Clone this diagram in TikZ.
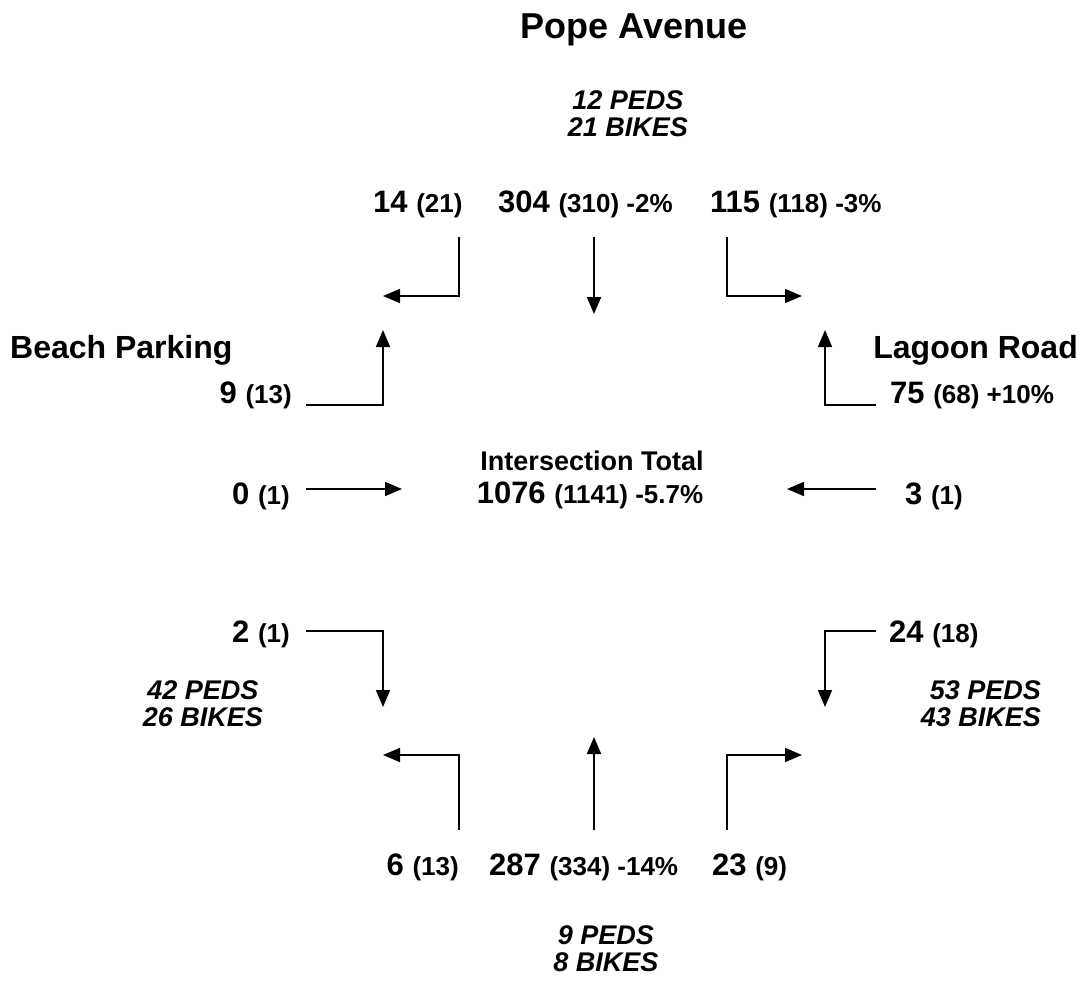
\documentclass[tikz,border=0pt]{standalone}
\usepackage{fontspec}
\setmainfont{Liberation Sans}
\usetikzlibrary{arrows.meta}
\newcommand\sm[1]{{\fontsize{26}{30}\selectfont #1}}
\begin{document}
\begin{tikzpicture}[x=1pt,y=-1pt,
  road/.style={font=\bfseries\fontsize{32}{38}\selectfont, inner sep=0pt, anchor=base west},
  cnt/.style={font=\bfseries\fontsize{31}{36}\selectfont, inner sep=0pt, anchor=base west},
  ped/.style={font=\bfseries\itshape\fontsize{27}{27}\selectfont, inner sep=0pt, anchor=north},
  tot/.style={font=\bfseries\fontsize{27}{30}\selectfont, inner sep=0pt, anchor=base},
  mv/.style={line width=1.6pt, -{Triangle[width=14pt,length=17pt]}},
  thru/.style={mv, line width=2pt},
]
\useasboundingbox (0,0) rectangle (1089,996);
% road names
\node[road, anchor=base, font=\bfseries\fontsize{36}{40}\selectfont] (pope) at (634,38) {Pope Avenue};
\node[road] (beach) at (10,358) {Beach Parking};
\node[road, anchor=base east] (lagoon) at (1078,358) {Lagoon Road};
% peds
\node[ped, align=center] (pedN) at (628,90) {12 PEDS\\21 BIKES};
\node[ped, align=center] (pedW) at (203,680) {42 PEDS\\26 BIKES};
\node[ped, align=right, anchor=north east] (pedE) at (1041,680) {53 PEDS\\43 BIKES};
\node[ped, align=center] (pedS) at (606,925) {9 PEDS\\8 BIKES};
% center
\node[tot] (tt) at (592,470) {Intersection Total};
\node[cnt, anchor=base] (tv) at (590,503) {1076 \sm{(1141) -5.7\%}};
% north approach
\node[cnt] (nL) at (373,212) {14 \sm{(21)}};
\node[cnt] (nT) at (498,212) {304 \sm{(310) -2\%}};
\node[cnt] (nR) at (710,212) {115 \sm{(118) -3\%}};
\coordinate (nLa) at (459,237); \coordinate (nLb) at (383,296);
\coordinate (nTa) at (594,237); \coordinate (nTb) at (594,314);
\coordinate (nRa) at (727,237); \coordinate (nRb) at (802,296);
\draw[mv] (nLa) |- (nLb);
\draw[thru] (nTa) -- (nTb);
\draw[mv] (nRa) |- (nRb);
% west approach
\node[cnt, anchor=base east] (wR) at (292,403) {9 \sm{(13)}};
\node[cnt, anchor=base east] (wT) at (290,504) {0 \sm{(1)}};
\node[cnt, anchor=base east] (wL) at (290,642) {2 \sm{(1)}};
\coordinate (wRa) at (306,405); \coordinate (wRb) at (383,330);
\coordinate (wTa) at (306,489); \coordinate (wTb) at (402,489);
\coordinate (wLa) at (306,631); \coordinate (wLb) at (383,707);
\draw[mv] (wRa) -| (wRb);
\draw[mv] (wTa) -- (wTb);
\draw[mv] (wLa) -| (wLb);
% east approach
\node[cnt] (eL) at (890,403) {75 \sm{(68) +10\%}};
\node[cnt] (eT) at (905,504) {3 \sm{(1)}};
\node[cnt] (eR) at (889,642) {24 \sm{(18)}};
\coordinate (eLa) at (876,405); \coordinate (eLb) at (825,330);
\coordinate (eTa) at (876,489); \coordinate (eTb) at (787,489);
\coordinate (eRa) at (876,631); \coordinate (eRb) at (825,707);
\draw[mv] (eLa) -| (eLb);
\draw[mv] (eTa) -- (eTb);
\draw[mv] (eRa) -| (eRb);
% south approach
\node[cnt, anchor=base east] (sL) at (459,875) {6 \sm{(13)}};
\node[cnt] (sT) at (489,875) {287 \sm{(334) -14\%}};
\node[cnt] (sR) at (712,875) {23 \sm{(9)}};
\coordinate (sLa) at (459,830); \coordinate (sLb) at (383,755);
\coordinate (sTa) at (594,830); \coordinate (sTb) at (594,737);
\coordinate (sRa) at (727,830); \coordinate (sRb) at (802,755);
\draw[mv] (sLa) |- (sLb);
\draw[thru] (sTa) -- (sTb);
\draw[mv] (sRa) |- (sRb);
\end{tikzpicture}
\end{document}
